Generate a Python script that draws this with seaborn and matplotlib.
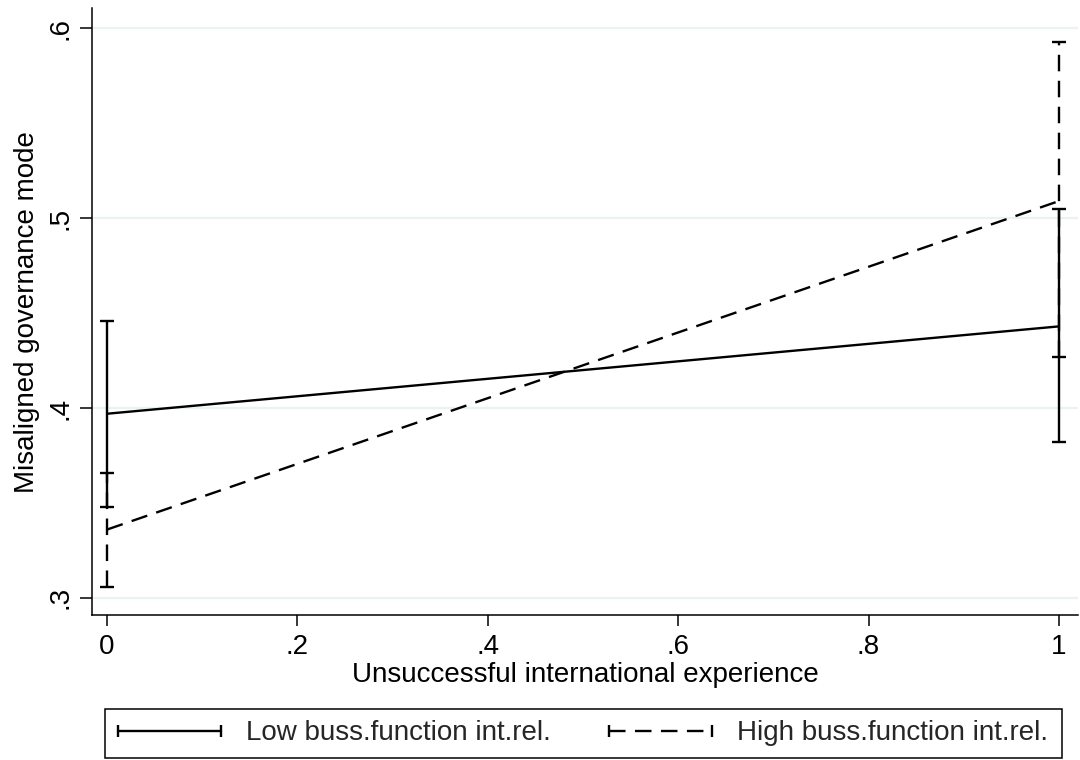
import numpy as np
import pandas as pd
import matplotlib
matplotlib.use("Agg")
import matplotlib.pyplot as plt
import seaborn as sns
from matplotlib.lines import Line2D
from matplotlib.patches import Rectangle

# values
x_vals = [0, 1]
low_mean = [0.397, 0.443]
low_lo = [0.348, 0.382]
low_hi = [0.446, 0.505]
high_mean = [0.336, 0.509]
high_lo = [0.306, 0.427]
high_hi = [0.366, 0.593]
group_names = ["Low buss.function int.rel.", "High buss.function int.rel."]

x_ticks = [0, 0.2, 0.4, 0.6, 0.8, 1.0]
x_labels = ["0", ".2", ".4", ".6", ".8", "1"]
y_ticks = [0.3, 0.4, 0.5, 0.6]
y_labels = [".3", ".4", ".5", ".6"]

sns.set_theme(style="white")
plt.rcParams["font.family"] = ["Liberation Sans", "DejaVu Sans"]

df = pd.DataFrame({
    "x": x_vals * 2,
    "y": low_mean + high_mean,
    "group": [group_names[0]] * 2 + [group_names[1]] * 2,
})

dash = (7, 4)

fig = plt.figure(figsize=(10.8, 7.6), dpi=100)
ax = fig.add_axes([0.0852, 0.1908, 0.9128, 0.7982])

for yt in y_ticks:
    ax.axhline(yt, color="#eaf2f3", lw=1.6, zorder=0)

sns.lineplot(data=df, x="x", y="y", hue="group", style="group",
             palette=["black", "black"], dashes=[(1, 0), dash],
             lw=1.7, legend=False, ax=ax)

for mean, lo, hi, ls in [(low_mean, low_lo, low_hi, "-"),
                         (high_mean, high_lo, high_hi, "--")]:
    m = np.array(mean)
    err = [m - np.array(lo), np.array(hi) - m]
    eb = ax.errorbar(x_vals, m, yerr=err, fmt="none", ecolor="black",
                     elinewidth=1.7, capsize=5, capthick=1.7)
    if ls == "--":
        eb[2][0].set_linestyle((0, dash))

ax.set_xlim(-0.0158, 1.0199)
ax.set_ylim(0.291, 0.6105)
ax.set_xticks(x_ticks)
ax.set_xticklabels(x_labels)
ax.set_yticks(y_ticks)
ax.set_yticklabels(y_labels, rotation=90, va="center")
ax.tick_params(axis="both", direction="out", width=1.1, color="black",
               labelsize=20, colors="black", bottom=True, left=True)
ax.tick_params(axis="x", length=8, pad=6)
ax.tick_params(axis="y", length=9, pad=4)
for s in ["top", "right"]:
    ax.spines[s].set_visible(False)
for s in ["left", "bottom"]:
    ax.spines[s].set_color("black")
    ax.spines[s].set_linewidth(1.1)
ax.set_xlabel("Unsuccessful international experience", fontsize=20,
              color="black", labelpad=1)
ax.set_ylabel("Misaligned governance mode", fontsize=20, color="black",
              labelpad=6)

# legend box
fig.patches.append(Rectangle((105 / 1080, 2 / 760), 957 / 1080, 49 / 760,
                             transform=fig.transFigure, fill=False,
                             edgecolor="black", lw=1.1))
handles = [
    Line2D([0], [0], color="black", lw=1.7, ls="-", marker="|",
           markersize=8, markeredgewidth=1.7),
    Line2D([0], [0], color="black", lw=1.7, ls=(0, dash), marker="|",
           markersize=8, markeredgewidth=1.7),
]
leg = fig.legend(handles, group_names, ncol=2, numpoints=2,
                 loc="center left", bbox_to_anchor=(110 / 1080, 26.5 / 760),
                 fontsize=20, frameon=False, handlelength=4.3,
                 handletextpad=0.6, borderaxespad=0, borderpad=0,
                 columnspacing=1.8)

fig.savefig("out.png", dpi=100, facecolor="white")
